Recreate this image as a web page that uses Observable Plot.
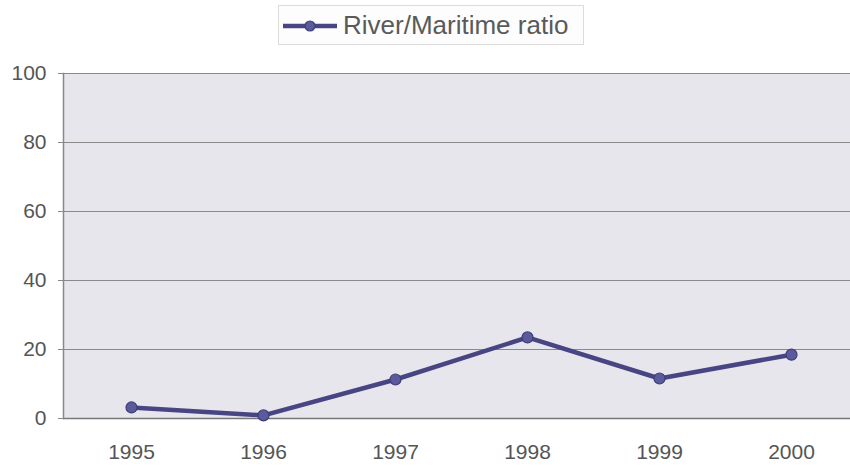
<!DOCTYPE html>
<html>
<head>
<meta charset="utf-8">
<script src="https://cdn.jsdelivr.net/npm/d3@7"></script>
<script src="https://cdn.jsdelivr.net/npm/@observablehq/plot@0.6"></script>
<style>
  html, body { margin: 0; padding: 0; background: #fff; width: 850px; height: 467px; overflow: hidden; }
  #legend { position: relative; height: 55px; }
  #legend .box { position: absolute; left: 278px; top: 5px; width: 306px; height: 40px; border: 1px solid #dcdcdc; background: #fdfdfd; box-sizing: border-box; font-family: "Liberation Sans", Arial, sans-serif; font-size: 26px; color: #5a5a5a; }
  #legend svg { position: absolute; left: 4px; top: 12px; }
  #legend span { position: absolute; left: 64px; top: 4px; white-space: nowrap; }
</style>
</head>
<body>
<div id="legend"></div>
<div id="chart"></div>
<script>
const years = ["1995", "1996", "1997", "1998", "1999", "2000"];
const ratio = [3.2, 0.9, 11.3, 23.5, 11.6, 18.5];
const yTicks = [0, 20, 40, 60, 80, 100];
const seriesName = "River/Maritime ratio";

const lineColor = "#474683";
const data = years.map((y, i) => ({year: y, value: ratio[i]}));

// legend
const lg = document.createElement("div");
lg.className = "box";
lg.innerHTML = `<svg width="56" height="16"><line x1="0" y1="8" x2="54" y2="8" stroke="${lineColor}" stroke-width="4.5"/><circle cx="27" cy="8" r="5" fill="#5a5a9c" stroke="#3e3d7a" stroke-width="1.2"/></svg><span>${seriesName}</span>`;
document.getElementById("legend").appendChild(lg);

const chart = Plot.plot({
  width: 850,
  height: 412,
  marginTop: 18,
  marginBottom: 49,
  marginLeft: 63,
  marginRight: 0,
  style: { fontFamily: "'Liberation Sans', Arial, sans-serif", fontSize: "21px", color: "#555", background: "transparent" },
  x: { type: "point", domain: years, padding: 0.5, range: [63, 858], label: null },
  y: { domain: [0, 100], range: [363, 18], label: null },
  marks: [
    Plot.frame({ fill: "#e7e6ed", stroke: "none" }),
    Plot.ruleY(yTicks.filter(d => d > 0), { stroke: "#8a8a8a", strokeWidth: 1 }),
    Plot.ruleY([0], { stroke: "#777", strokeWidth: 1.5 }),
    Plot.frame({ anchor: "left", stroke: "#888", strokeWidth: 1.5 }),
    Plot.axisY({ ticks: yTicks, tickSize: 5, tickPadding: 12, stroke: "#888", fill: "#555", fontSize: 21, label: null }),
    Plot.axisX({ tickSize: 0, tickPadding: 26, fill: "#555", fontSize: 21, label: null }),
    Plot.line(data, { x: "year", y: "value", stroke: lineColor, strokeWidth: 4.5, strokeLinejoin: "round" }),
    Plot.dot(data, { x: "year", y: "value", r: 5.5, fill: "#5a5a9c", stroke: "#3e3d7a", strokeWidth: 1.2 })
  ]
});
document.getElementById("chart").appendChild(chart);
</script>
</body>
</html>
